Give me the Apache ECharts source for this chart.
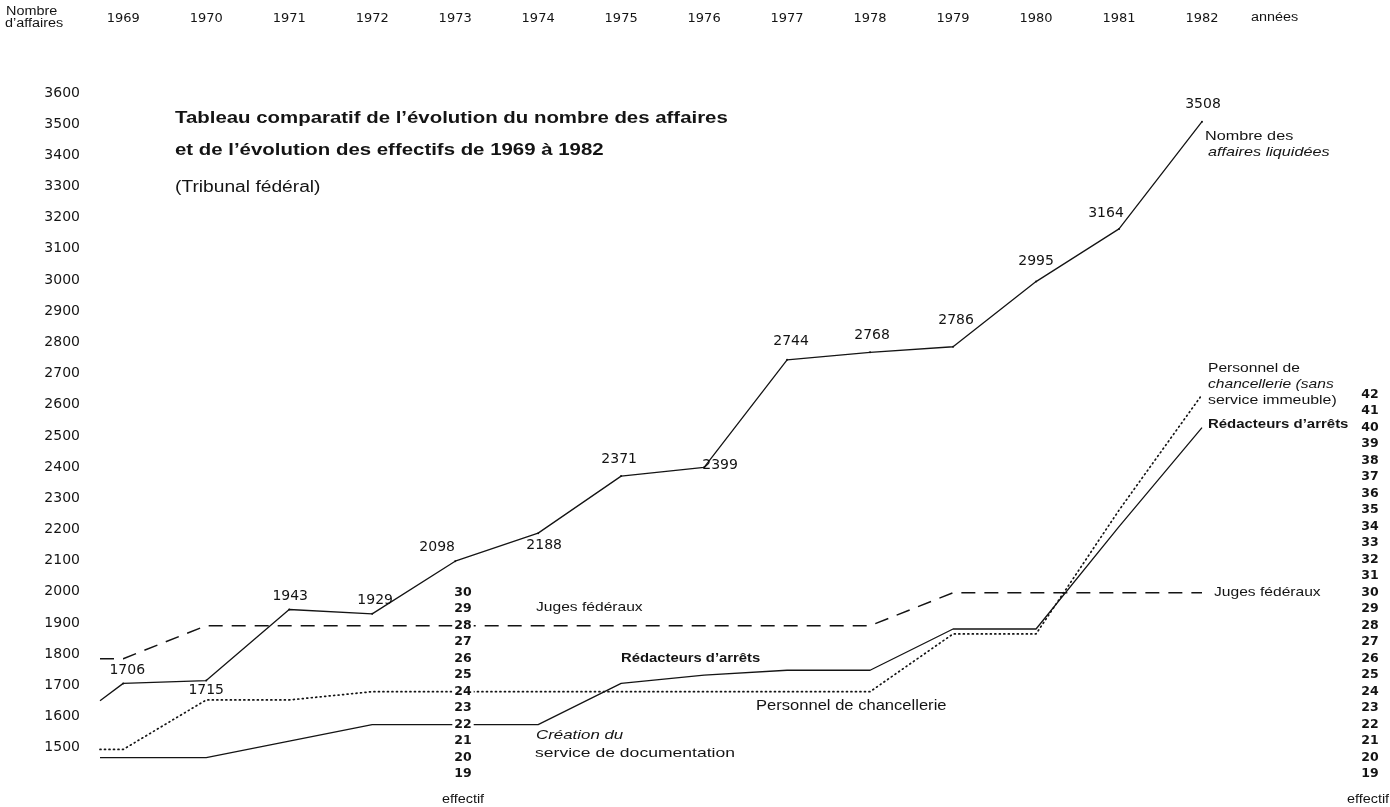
<!DOCTYPE html>
<html><head><meta charset="utf-8">
<script src="https://cdn.jsdelivr.net/npm/echarts@6/dist/echarts.min.js"></script>
<style>html,body{margin:0;background:#fff}#c{width:1390px;height:807px}</style>
</head><body><div id="c"></div>
<script>
// ---- data ----
const years = [1969,1970,1971,1972,1973,1974,1975,1976,1977,1978,1979,1980,1981,1982];
const xStart = 1968.72;              // left edge where the curves begin
const affairesStart = 1650;          // value at the left edge of the curve
const affaires   = [1706,1715,1943,1929,2098,2188,2371,2399,2744,2768,2786,2995,3164,3508];
const juges      = [26,28,28,28,28,28,28,28,28,28,30,30,30,30];
const redacteurs = [20,20,21,22,22,22,24.5,25,25.3,25.3,27.8,27.8,34,40];
const personnel  = [20.5,23.5,23.5,24,24,24,24,24,24,24,27.5,27.5,35,42];
const affairesTicks = [1500,1600,1700,1800,1900,2000,2100,2200,2300,2400,2500,2600,2700,2800,2900,3000,3100,3200,3300,3400,3500,3600];
const effectifTicksRight = [19,20,21,22,23,24,25,26,27,28,29,30,31,32,33,34,35,36,37,38,39,40,41,42];
const effectifTicksMid = [19,20,21,22,23,24,25,26,27,28,29,30];

// label offsets for the "Nombre des affaires" values [dx, dy]
const affLabelOffsets = [[4,-13],[0,10],[1,-13],[3,-14],[-18,-14],[6,12],[-2,-17],[16,-2],[4,-18],[2,-17],[3,-26],[0,-20],[-13,-16],[1,-17]];

const FONT = '"Liberation Sans", Arial, sans-serif';
const NUMFONT = '"DejaVu Sans", sans-serif';
const INK = '#141414';

function withStart(startVal, vals) {
  return [{value:[xStart, startVal], symbol:'none', label:{show:false}}]
    .concat(years.map((y,i)=>[y, vals[i]]));
}

const affData = [{value:[xStart, affairesStart], symbol:'none', label:{show:false}}]
  .concat(years.map((y,i)=>({value:[y, affaires[i]], label:{offset:affLabelOffsets[i]}})));

function txt(x, y, text, font, sx, extra) {
  return {type:'text', x:x, y:y, scaleX:sx,
    style:Object.assign({text:text, font:font, fill:INK, textVerticalAlign:'middle'}, extra||{})};
}

const chart = echarts.init(document.getElementById('c'));
const effMin = 18.345, effMax = 60.285;

chart.setOption({
  animation:false,
  backgroundColor:'#fff',
  grid:{left:100, right:188, top:93, bottom:22},
  xAxis:{
    type:'value', position:'top', min:xStart, max:1982,
    axisLine:{show:false}, axisTick:{show:false}, splitLine:{show:false},
    axisLabel:{customValues:years, margin:68, color:INK, fontSize:13, fontFamily:NUMFONT, formatter:v=>String(v)}
  },
  yAxis:[
    {type:'value', position:'left', min:1380, max:3600,
     axisLine:{show:false}, axisTick:{show:false}, splitLine:{show:false},
     axisLabel:{customValues:affairesTicks, margin:20, color:INK, fontSize:14, fontFamily:NUMFONT, formatter:v=>String(v)}},
    {type:'value', position:'right', min:effMin, max:effMax, offset:168,
     axisLine:{show:false}, axisTick:{show:false}, splitLine:{show:false},
     axisLabel:{customValues:effectifTicksRight, margin:0, align:'center', color:INK, fontSize:12.5, fontWeight:'bold', fontFamily:NUMFONT, formatter:v=>String(v)}},
    {type:'value', position:'left', min:effMin, max:effMax, offset:-363, z:10,
     axisLine:{show:false}, axisTick:{show:false}, splitLine:{show:false},
     axisLabel:{customValues:effectifTicksMid, margin:0, align:'center', color:INK, fontSize:12.5, fontWeight:'bold', fontFamily:NUMFONT,
                backgroundColor:'#fff', padding:[0,2], formatter:v=>String(v)}}
  ],
  series:[
    {type:'line', name:'Nombre des affaires liquidées', yAxisIndex:0, data:affData,
     symbol:'circle', symbolSize:2, itemStyle:{color:INK},
     lineStyle:{color:INK, width:1.3},
     label:{show:true, position:'inside', align:'center', verticalAlign:'middle', color:INK, fontSize:14, fontFamily:NUMFONT,
            formatter:p=>String(p.value[1])}},
    {type:'line', name:'Juges fédéraux', yAxisIndex:1, data:withStart(juges[0], juges),
     symbol:'none', lineStyle:{color:INK, width:1.5, type:[14,9]}},
    {type:'line', name:"Rédacteurs d'arrêts", yAxisIndex:1, data:withStart(redacteurs[0], redacteurs),
     symbol:'none', lineStyle:{color:INK, width:1.3}},
    {type:'line', name:'Personnel de chancellerie', yAxisIndex:1, data:withStart(personnel[0], personnel),
     symbol:'none', lineStyle:{color:INK, width:1.7, type:[1,3.5], cap:'round'}}
  ],
  graphic:[
    txt(6, 12, 'Nombre', '12px '+FONT, 1.2),
    txt(5, 24, 'd\u2019affaires', '12px '+FONT, 1.2),
    txt(1251, 18, 'années', '12px '+FONT, 1.2),
    txt(175, 118, 'Tableau comparatif de l\u2019évolution du nombre des affaires', 'bold 17px '+FONT, 1.2),
    txt(175, 150, 'et de l\u2019évolution des effectifs de 1969 à 1982', 'bold 17px '+FONT, 1.2),
    txt(175, 188, '(Tribunal fédéral)', '16px '+FONT, 1.2),
    txt(1205, 136, 'Nombre des', '13.5px '+FONT, 1.2),
    txt(1208, 152, 'affaires liquidées', 'italic 13.5px '+FONT, 1.2),
    txt(536, 607, 'Juges fédéraux', '13px '+FONT, 1.2),
    txt(621, 658, 'Rédacteurs d\u2019arrêts', 'bold 13px '+FONT, 1.14),
    txt(756, 706, 'Personnel de chancellerie', '13.8px '+FONT, 1.2),
    txt(536, 735, 'Création du', 'italic 13.5px '+FONT, 1.25),
    txt(535, 753, 'service de documentation', '13.5px '+FONT, 1.3),
    txt(1214, 592, 'Juges fédéraux', '13px '+FONT, 1.2),
    txt(1208, 368, 'Personnel de', '13px '+FONT, 1.2),
    txt(1208, 384, 'chancellerie (sans', 'italic 13px '+FONT, 1.2),
    txt(1208, 400, 'service immeuble)', '13px '+FONT, 1.22),
    txt(1208, 424, 'Rédacteurs d\u2019arrêts', 'bold 13px '+FONT, 1.15),
    txt(463, 800, 'effectif', '12px '+FONT, 1.2, {textAlign:'center'}),
    txt(1368, 800, 'effectif', '12px '+FONT, 1.2, {textAlign:'center'})
  ]
});
</script></body></html>
